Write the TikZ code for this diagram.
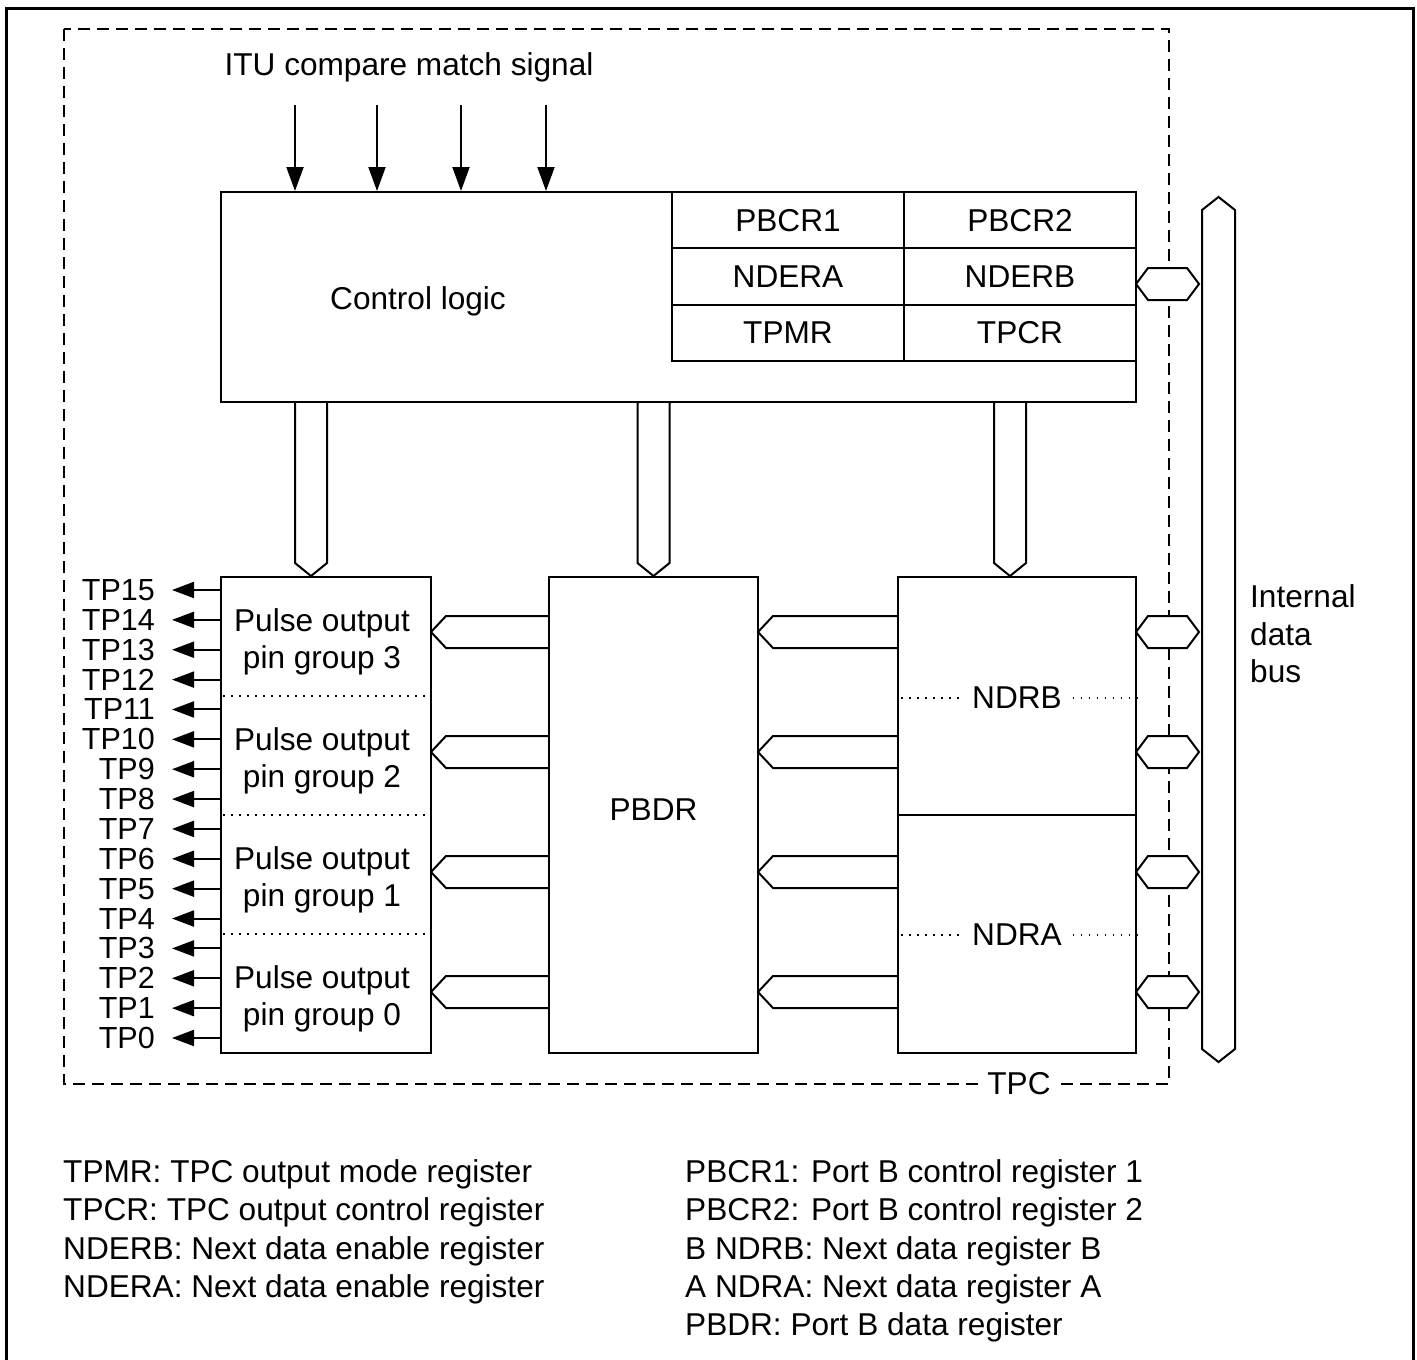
\documentclass[tikz,border=0pt]{standalone}
\usepackage{fontspec}
\setmainfont{Liberation Sans}
\usetikzlibrary{arrows.meta}
\newcommand\hexR[1]{\draw[busw] (1136,#1) -- (1148,#1-16) -- (1187,#1-16) -- (1199,#1) -- (1187,#1+16) -- (1148,#1+16) -- cycle;}
\newcommand\arrL[3]{\draw[bus] (#2,#3-16) -- (#1+15,#3-16) -- (#1,#3) -- (#1+15,#3+16) -- (#2,#3+16);}
\newcommand\arrD[1]{\draw[bus] (#1-16,402) -- (#1-16,563) -- (#1,576) -- (#1+16,563) -- (#1+16,402);}
\begin{document}
\begin{tikzpicture}[x=1pt,y=-1pt,
  every node/.style={font=\fontsize{31.6}{38.3}\selectfont, inner sep=0pt},
  blk/.style={draw, line width=2pt, inner sep=0pt},
  bus/.style={draw, line width=2pt, line join=miter},
  busw/.style={bus, fill=white},
  dots/.style={line width=1.5pt, dash pattern=on 1.5pt off 6.5pt},
  tpc/.style={line width=2pt, dash pattern=on 12pt off 7pt},
  tparrow/.style={line width=2pt, -{Triangle[length=22pt,width=16pt]}},
  ituarrow/.style={line width=2pt, -{Triangle[length=24pt,width=17pt]}},
]
\useasboundingbox (0,0) rectangle (1417,1360);
% outer frame
\draw[line width=3pt] (6,1375) -- (6,8) -- (1413,8) -- (1413,1375);
% TPC dashed boundary
\draw[tpc] (64,29) rectangle (1169,1084);
\node[fill=white, inner xsep=5pt, inner ysep=3pt] (tpclabel) at (1019,1084) {TPC};

% ITU compare match signals
\node (itu) at (409,67) {ITU compare match signal};
\node[blk, minimum width=915pt, minimum height=210pt] (ctrl) at (678.5,297) {};
\foreach \x in {295,377,461,546} {
  \coordinate (s\x) at (\x,105);
  \draw[ituarrow] (s\x) -- (s\x |- ctrl.north);
}
\node (ctrltext) at (418,301) {Control logic};
% register table
\begin{scope}[every node/.append style={blk, line width=2pt, minimum width=232pt, minimum height=56.33pt}]
\node (pbcr1) at (788,220.17) {PBCR1};
\node (pbcr2) at (1020,220.17) {PBCR2};
\node (ndera) at (788,276.5) {NDERA};
\node (nderb) at (1020,276.5) {NDERB};
\node (tpmr) at (788,332.83) {TPMR};
\node (tpcr) at (1020,332.83) {TPCR};
\end{scope}

% lower blocks
\node[blk, minimum width=210pt, minimum height=476pt] (pog) at (326,815) {};
\node[blk, minimum width=209pt, minimum height=476pt] (pbdr) at (653.5,815) {};
\node (pbdrtext) at (653.5,810) {PBDR};
\node[blk, minimum width=238pt, minimum height=476pt] (ndr) at (1017,815) {};
\draw[line width=2.5pt] (ndr.west) -- (ndr.east);

% pulse output groups
\foreach \yy in {696,815,934} \draw[dots] (223,\yy) -- (430,\yy);
\begin{scope}[every node/.append style={align=center, font=\fontsize{31.6}{37}\selectfont}]
\node (g3) at (322,641.5) {Pulse output\\pin group 3};
\node (g2) at (322,760.5) {Pulse output\\pin group 2};
\node (g1) at (322,879.5) {Pulse output\\pin group 1};
\node (g0) at (322,998.5) {Pulse output\\pin group 0};
\end{scope}

% NDRB / NDRA labels with dotted lines
\node[inner xsep=11pt] (ndrb) at (1017,698) {NDRB};
\node[inner xsep=11pt] (ndra) at (1017,935) {NDRA};
\draw[dots] ([xshift=4pt]ndr.west |- ndrb) -- (ndrb.west);
\draw[dots] (ndrb.east) -- (ndr.east |- ndrb);
\draw[dots] ([xshift=4pt]ndr.west |- ndra) -- (ndra.west);
\draw[dots] (ndra.east) -- (ndr.east |- ndra);

% TP outputs
\foreach \n in {0,...,15} {
  \pgfmathsetmacro\yy{1038-\n*29.867}
  \node[anchor=east, font=\fontsize{30.5}{36}\selectfont] (tp\n) at (155,\yy) {TP\n};
  \draw[tparrow] (pog.west |- tp\n.east) -- ([xshift=17pt]tp\n.east);
}

% vertical buses from control logic
\arrD{311}
\arrD{653.5}
\arrD{1010}

% horizontal buses
\foreach \yy in {632,752,872,992} {
  \arrL{431}{549}{\yy}
  \arrL{758}{898}{\yy}
}
% bus connectors to internal data bus
\hexR{284}
\foreach \yy in {632,752,872,992} {\hexR{\yy}}

% internal data bus
\draw[bus] (1202,210) -- (1218.5,197) -- (1235,210) -- (1235,1049) -- (1218.5,1062) -- (1202,1049) -- cycle;
\node[anchor=north west, align=left, font=\fontsize{31.6}{37.5}\selectfont] (idb) at (1250,584.4) {Internal\\data\\bus};

% legend
\node[anchor=north west, align=left] (legL) at (63,1159.4) {TPMR: TPC output mode register\\TPCR: TPC output control register\\NDERB: Next data enable register\\NDERA: Next data enable register};
\node[anchor=north west, align=left] (legR) at (685,1159.4) {PBCR1: Port B control register 1\\PBCR2: Port B control register 2\\B NDRB: Next data register B\\A NDRA: Next data register A\\PBDR: Port B data register};
\end{tikzpicture}
\end{document}
